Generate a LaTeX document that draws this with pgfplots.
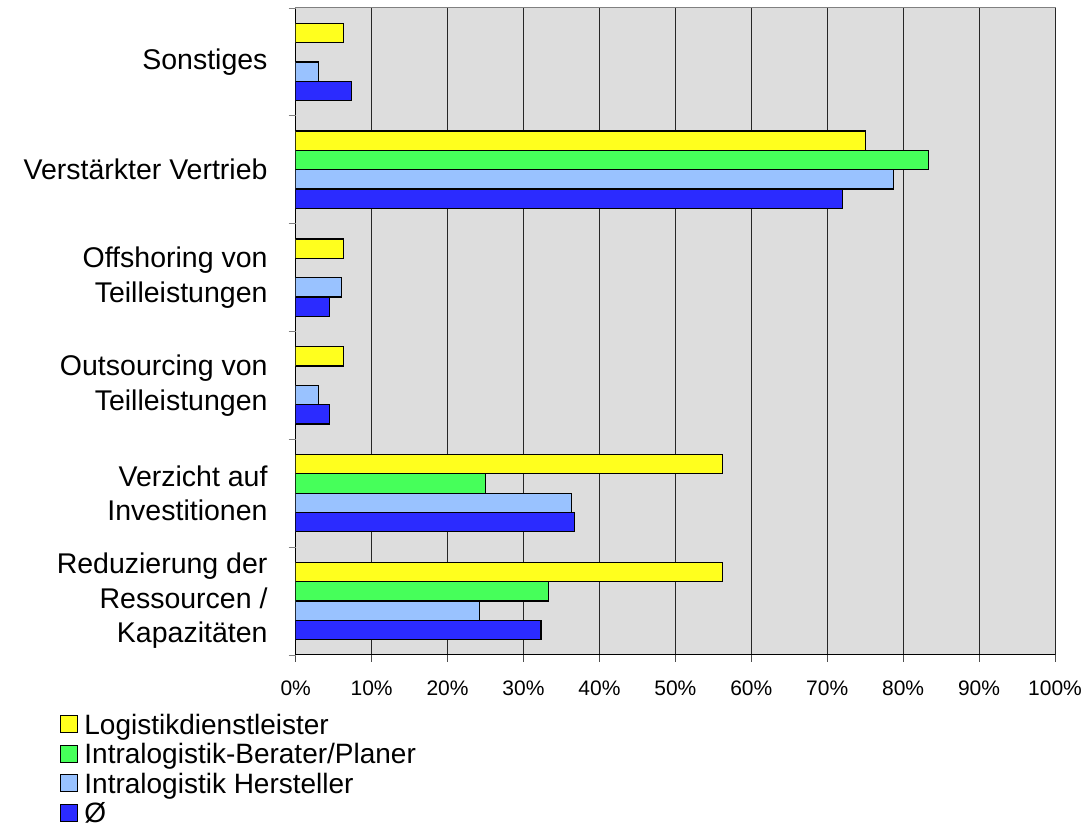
\documentclass[border=0pt]{standalone}
\usepackage{pgfplots}
\pgfplotsset{compat=1.18}
\usepackage{fontspec}
\setmainfont{Liberation Sans}
\definecolor{cYel}{HTML}{FFFF1E}
\definecolor{cGrn}{HTML}{46FF5A}
\definecolor{cLbl}{HTML}{99C2FF}
\definecolor{cDbl}{HTML}{2B2BFF}
\definecolor{cBg}{HTML}{DDDDDD}
\begin{document}
\begin{tikzpicture}
\useasboundingbox (0,0) rectangle (1085pt,827pt);
\begin{axis}[
  at={(295.7pt,172pt)}, anchor=south west,
  width=759.3pt, height=647pt, scale only axis,
  xmin=0, xmax=100, ymin=-0.5, ymax=5.5,
  xbar, bar width=19.3pt,
  axis background/.style={fill=cBg, draw=gray, line width=1pt},
  axis lines=left,
  axis line style={-, black, line width=1pt},
  xmajorgrids, major grid style={black!85, line width=0.9pt},
  tick align=outside,
  major tick length=7pt,
  xtick={0,10,...,100},
  xticklabels={0\%,10\%,20\%,30\%,40\%,50\%,60\%,70\%,80\%,90\%,100\%},
  xticklabel style={font=\fontsize{21}{25}\selectfont, yshift=-15pt},
  x tick style={draw=black!70, line width=0.8pt},
  ytick={0,1,2,3,4,5},
  yticklabels={{Reduzierung der\\Ressourcen /\\Kapazitäten},{Verzicht auf\\Investitionen},{Outsourcing von\\Teilleistungen},{Offshoring von\\Teilleistungen},{Verstärkter Vertrieb},{Sonstiges}},
  yticklabel style={align=right, font=\fontsize{28.5}{34.5}\selectfont, inner sep=0pt, xshift=-21pt},
  y tick style={draw=none},
  extra y ticks={-0.5,0.5,1.5,2.5,3.5,4.5,5.5},
  extra y tick labels={},
  extra y tick style={y tick style={draw=gray, line width=0.8pt}},
  legend image code/.code={\draw[#1, line width=1.2pt] (0pt,-7pt) rectangle (17pt,10pt);},
  legend cell align=left,
  legend style={at={(-0.3104,-0.0896)}, anchor=north west, draw=none, fill=none,
    inner sep=0pt, font=\fontsize{28}{33}\selectfont, row sep=4.6pt, column sep=6pt,
    nodes={inner sep=0pt, text height=21pt, text depth=4pt}},
]
\addplot[fill=cYel, draw=black, line width=1.2pt, bar shift=29pt] coordinates {(56.25,0) (56.25,1) (6.25,2) (6.25,3) (75,4) (6.25,5)};
\addplot[fill=cGrn, draw=black, line width=1.2pt, bar shift=9.7pt] coordinates {(33.3,0) (25,1) (83.3,4)};
\addplot[fill=cLbl, draw=black, line width=1.2pt, bar shift=-9.7pt] coordinates {(24.2,0) (36.3,1) (3.0,2) (6.05,3) (78.7,4) (3.0,5)};
\addplot[fill=cDbl, draw=black, line width=1.2pt, bar shift=-29pt] coordinates {(32.3,0) (36.7,1) (4.4,2) (4.4,3) (72.0,4) (7.3,5)};
\legend{Logistikdienstleister, Intralogistik-Berater/Planer, Intralogistik Hersteller, Ø}
\end{axis}
\end{tikzpicture}
\end{document}
